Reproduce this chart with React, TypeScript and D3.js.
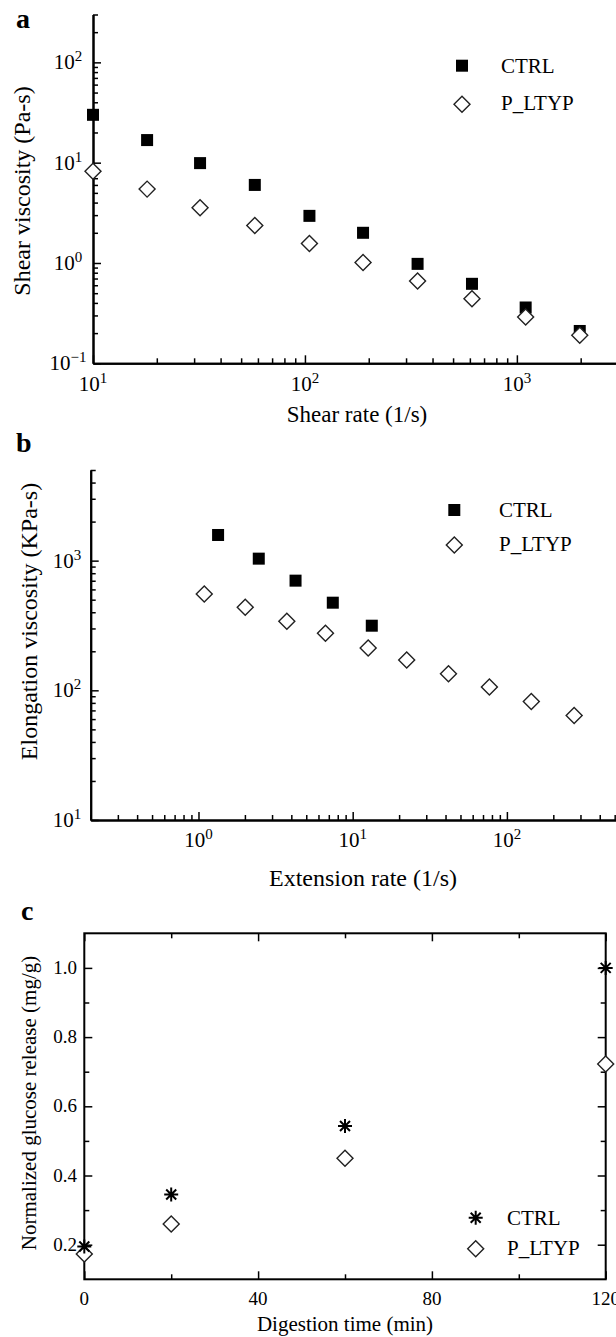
import React, { useEffect, useRef } from "react";
import * as d3 from "d3";

// panel a: shear viscosity vs shear rate
const shearRate = [10, 18, 32, 58, 105, 188, 340, 614, 1100, 1980];
const shearCtrl = [30, 16.8, 9.9, 6.0, 2.95, 2.0, 0.98, 0.62, 0.36, 0.21];
const shearLtyp = [8.2, 5.45, 3.56, 2.36, 1.56, 1.01, 0.66, 0.44, 0.29, 0.19];

// panel b: elongation viscosity vs extension rate
const extRateCtrl = [1.34, 2.46, 4.26, 7.43, 13.3];
const elongCtrl = [1577, 1036, 701, 474, 315];
const extRateLtyp = [1.09, 2.01, 3.74, 6.66, 12.6, 22.4, 41.8, 77, 144, 273];
const elongLtyp = [554, 437, 341, 275, 212, 171, 134, 106, 82, 64];

// panel c: glucose release vs digestion time
const digestTime = [0, 20, 60, 120];
const glucoseCtrl = [0.195, 0.345, 0.543, 1.0];
const glucoseLtyp = [0.173, 0.26, 0.45, 0.722];
const timeTicks = [0, 40, 80, 120];
const timeMinor = [20, 60, 100];
const glucoseTicks = [0.2, 0.4, 0.6, 0.8, 1.0];
const glucoseMinor = [0.3, 0.5, 0.7, 0.9];

const seriesNames = ["CTRL", "P_LTYP"];

const FONT = "Liberation Serif";
const W = 616;
const isPow = (v: number) => Math.abs(Math.log10(v) - Math.round(Math.log10(v))) < 1e-6;

const styleAxis = (g: any) => {
  g.selectAll("path.domain").attr("stroke", "#000").attr("stroke-width", 2);
  g.selectAll(".tick line").attr("stroke", "#000").attr("stroke-width", 1.5);
  g.selectAll(".tick text").remove();
};

const square = (g: any, x: number, y: number) =>
  g.append("rect").attr("x", x - 6).attr("y", y - 6).attr("width", 12).attr("height", 12).attr("fill", "#000");

const diamondPath = d3.symbol().type(d3.symbolSquare).size(128)();
const diamond = (g: any, x: number, y: number) =>
  g
    .append("path")
    .attr("d", diamondPath)
    .attr("transform", `translate(${x},${y}) rotate(45)`)
    .attr("fill", "#fff")
    .attr("stroke", "#222")
    .attr("stroke-width", 1.4);

const asterisk = (g: any, x: number, y: number) =>
  g
    .append("path")
    .attr("d", "M-7,0H7M0,-7V7M-5,-5L5,5M-5,5L5,-5")
    .attr("transform", `translate(${x},${y})`)
    .attr("stroke", "#000")
    .attr("stroke-width", 2)
    .attr("fill", "none");

const powLabel = (g: any, x: number, y: number, v: number) => {
  const e = Math.round(Math.log10(v));
  const t = g
    .append("text")
    .attr("x", x)
    .attr("y", y)
    .attr("text-anchor", "middle")
    .attr("font-family", FONT)
    .attr("font-size", 21);
  t.append("tspan").text("10");
  t.append("tspan").attr("dy", -8).attr("font-size", 15).text(e < 0 ? "\u2212" + -e : String(e));
};

const logAxes = (g: any, x: any, y: any, yLabelX: number, xLabelY: number) => {
  const x0 = x.range()[0];
  const y0 = y.range()[0];
  const xt = x.ticks();
  const yt = y.ticks();
  const bottom = g.append("g").attr("transform", `translate(0,${y0})`);
  bottom.call(d3.axisBottom(x).tickValues(xt.filter((v: number) => !isPow(v))).tickSize(-5).tickSizeOuter(0));
  bottom.call(styleAxis);
  const bottomMaj = g.append("g").attr("transform", `translate(0,${y0})`);
  bottomMaj.call(d3.axisBottom(x).tickValues(xt.filter(isPow)).tickSize(-8).tickSizeOuter(0));
  bottomMaj.call(styleAxis);
  const left = g.append("g").attr("transform", `translate(${x0},0)`);
  left.call(d3.axisLeft(y).tickValues(yt.filter((v: number) => !isPow(v))).tickSize(-5).tickSizeOuter(0));
  left.call(styleAxis);
  const leftMaj = g.append("g").attr("transform", `translate(${x0},0)`);
  leftMaj.call(d3.axisLeft(y).tickValues(yt.filter(isPow)).tickSize(-8).tickSizeOuter(0));
  leftMaj.call(styleAxis);
  xt.filter((v: number) => isPow(v) && x(v) < W - 20).forEach((v: number) => powLabel(g, x(v), xLabelY, v));
  yt.filter(isPow).forEach((v: number) => powLabel(g, yLabelX, y(v) + 7, v));
};

const txt = (g: any, x: number, y: number, size: number, s: string, anchor = "start") =>
  g
    .append("text")
    .attr("x", x)
    .attr("y", y)
    .attr("font-family", FONT)
    .attr("font-size", size)
    .attr("text-anchor", anchor)
    .text(s);

const vtxt = (g: any, x: number, y: number, size: number, s: string) =>
  g
    .append("text")
    .attr("transform", `translate(${x},${y}) rotate(-90)`)
    .attr("font-family", FONT)
    .attr("font-size", size)
    .attr("text-anchor", "middle")
    .text(s);

const legend = (g: any, x: number, y1: number, y2: number, tx: number, mark: any, size: number) => {
  mark(g, x, y1);
  diamond(g, x, y2);
  txt(g, tx, y1 + 7, size, seriesNames[0]);
  txt(g, tx, y2 + 6, size, seriesNames[1]);
};

const App = () => {
  const ref = useRef<SVGSVGElement>(null);

  useEffect(() => {
    const svg = d3.select(ref.current);
    svg.selectAll("*").remove();
    const root = svg.append("g").attr("fill", "#000");

    // ---- panel a
    const xA = d3.scaleLog().domain([10, 3000]).range([93, 618]);
    const yA = d3.scaleLog().domain([0.1, 300]).range([363.3, 14.5]);
    const a = root.append("g");
    txt(a, 16, 28, 28, "a").attr("font-weight", "bold");
    logAxes(a, xA, yA, 68, 391);
    shearRate.forEach((r, i) => square(a, xA(r), yA(shearCtrl[i])));
    shearRate.forEach((r, i) => diamond(a, xA(r), yA(shearLtyp[i])));
    txt(a, 357, 422, 23, "Shear rate (1/s)", "middle");
    vtxt(a, 30, 191, 24, "Shear viscosity (Pa-s)");
    legend(a, 462, 65.7, 104.3, 501, square, 21);

    // ---- panel b
    const xB = d3.scaleLog().domain([0.2, 1000]).range([90.7, 661.1]);
    const yB = d3.scaleLog().domain([10, 5000]).range([820, 470]);
    const b = root.append("g");
    txt(b, 16, 452, 28, "b").attr("font-weight", "bold");
    logAxes(b, xB, yB, 67, 846.7);
    extRateCtrl.forEach((r, i) => square(b, xB(r), yB(elongCtrl[i])));
    extRateLtyp.forEach((r, i) => diamond(b, xB(r), yB(elongLtyp[i])));
    txt(b, 363, 886, 24, "Extension rate (1/s)", "middle");
    vtxt(b, 37, 621.5, 24, "Elongation viscosity (KPa-s)");
    legend(b, 454.3, 510, 545, 499, square, 21);

    // ---- panel c
    const xC = d3.scaleLinear().domain([0, 120]).range([84.3, 605.7]);
    const yC = d3.scaleLinear().domain([0.1, 1.1]).range([1279.3, 933.3]);
    const c = root.append("g");
    txt(c, 21, 920, 28, "c").attr("font-weight", "bold");
    c.append("rect")
      .attr("x", xC(0))
      .attr("y", yC(1.1))
      .attr("width", xC(120) - xC(0))
      .attr("height", yC(0.1) - yC(1.1))
      .attr("fill", "none")
      .attr("stroke", "#000")
      .attr("stroke-width", 2);
    const box = [
      { ax: d3.axisBottom(xC), t: `translate(0,${yC(0.1)})` },
      { ax: d3.axisTop(xC), t: `translate(0,${yC(1.1)})` },
      { ax: d3.axisLeft(yC), t: `translate(${xC(0)},0)` },
      { ax: d3.axisRight(yC), t: `translate(${xC(120)},0)` },
    ];
    box.forEach((d, i) => {
      const horiz = i < 2;
      const maj = c.append("g").attr("transform", d.t);
      maj.call(d.ax.tickValues(horiz ? timeTicks : glucoseTicks).tickSize(-8).tickSizeOuter(0));
      maj.call(styleAxis);
      const min = c.append("g").attr("transform", d.t);
      min.call(d.ax.tickValues(horiz ? timeMinor : glucoseMinor).tickSize(-5).tickSizeOuter(0));
      min.call(styleAxis);
    });
    c.selectAll("path.domain").remove();
    timeTicks.forEach((d) => txt(c, xC(d), 1305, 19, String(d), "middle"));
    glucoseTicks.forEach((d) => txt(c, 77, yC(d) + 6, 19, d3.format(".1f")(d), "end"));
    digestTime.forEach((t, i) => diamond(c, xC(t), yC(glucoseLtyp[i])));
    digestTime.forEach((t, i) => asterisk(c, xC(t), yC(glucoseCtrl[i])));
    txt(c, 345, 1331, 21, "Digestion time (min)", "middle");
    vtxt(c, 36, 1103, 21, "Normalized glucose release (mg/g)");
    legend(c, 475.7, 1217.7, 1248.7, 507, asterisk, 21);
  }, []);

  return (
    <svg
      ref={ref}
      width={W}
      height={1337}
      style={{ position: "absolute", left: 0, top: 0, background: "#fff" }}
    />
  );
};

export default App;
